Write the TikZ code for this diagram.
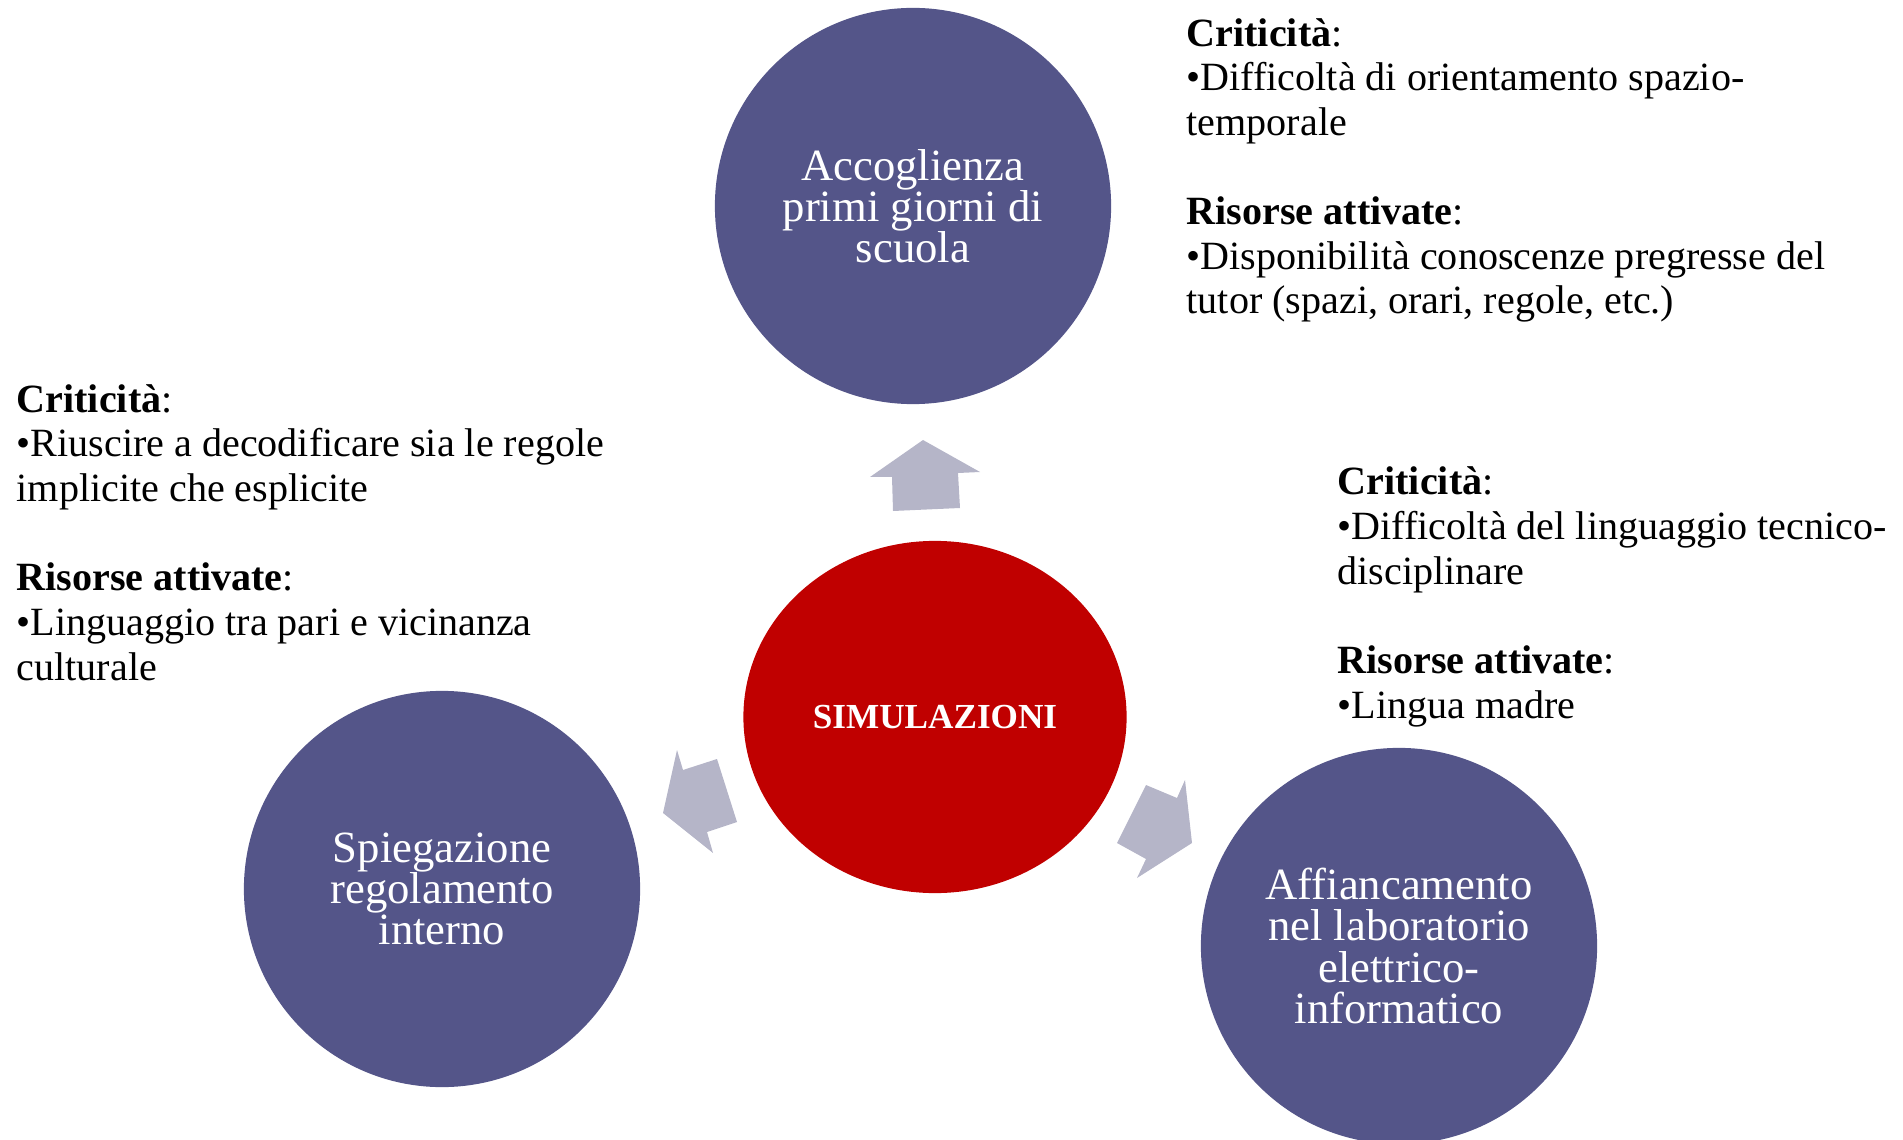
\documentclass[tikz,border=0pt]{standalone}
\usepackage{fontspec}
\setmainfont{Liberation Serif}
\usepackage{tikz}
\usetikzlibrary{positioning,shapes.geometric}
\definecolor{bluecirc}{RGB}{84,85,137}
\definecolor{redcirc}{RGB}{192,0,0}
\definecolor{arrowgray}{RGB}{181,181,200}
\begin{document}
\begin{tikzpicture}[x=0.01cm, y=-0.01cm,
		bubble/.style={circle, fill=bluecirc, text=white, minimum size=3.96cm, inner sep=0pt, align=center, font=\fontsize{12.7}{11.7}\selectfont},
		notes/.style={anchor=base west, align=left, inner sep=0pt, font=\fontsize{11.4}{12.7}\selectfont},
		blockarrow/.style={fill=arrowgray}]
				\useasboundingbox (0,0) rectangle (1903,1140);
				% cerchi
				\node[bubble] (acc) at (913, 206) {Accoglienza\\primi giorni di\\scuola};
				\node[ellipse, fill=redcirc, text=white, minimum width=3.83cm, minimum height=3.52cm, inner sep=0pt, font=\fontsize{10}{10}\selectfont\bfseries] (sim) at (935, 717) {SIMULAZIONI};
				\node[bubble] (spieg) at (442, 889) {Spiegazione\\regolamento\\interno};
				\node[bubble] (aff) at (1399, 946) {Affiancamento\\nel laboratorio\\elettrico-\\informatico};
				% frecce
				\fill[blockarrow] (923,440) -- (980,472) -- (958,473) -- (960,508) -- (893,511) -- (892,477) -- (870,477) -- cycle;
				\fill[blockarrow] (663,813) -- (677,750) -- (683,770) -- (717,759) -- (737,822) -- (707,832) -- (713,853) -- cycle;
				\fill[blockarrow] (1146,785) -- (1177,798) -- (1185,780) -- (1192,843) -- (1137,878) -- (1146,859) -- (1117,843) -- cycle;
				% testi (ancorati all'ultima riga)
				\node[notes] (critAcc) at (1186, 314) {\textbf{Criticità}:\\•Difficoltà di orientamento spazio-\\temporale\\[12.7pt]\textbf{Risorse attivate}:\\•Disponibilità conoscenze pregresse del\\tutor (spazi, orari, regole, etc.)};
				\node[notes] (critSpieg) at (16, 680) {\textbf{Criticità}:\\•Riuscire a decodificare sia le regole\\implicite che esplicite\\[12.7pt]\textbf{Risorse attivate}:\\•Linguaggio tra pari e vicinanza\\culturale};
				\node[notes] (critAff) at (1337, 718) {\textbf{Criticità}:\\•Difficoltà del linguaggio tecnico-\\disciplinare\\[12.7pt]\textbf{Risorse attivate}:\\•Lingua madre};
			\end{tikzpicture}
\end{document}
